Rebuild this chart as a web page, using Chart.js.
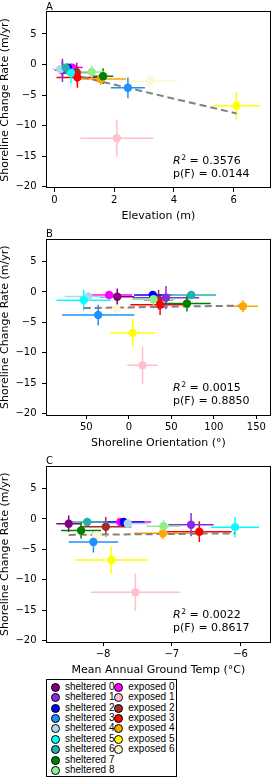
<!DOCTYPE html>
<html><head><meta charset="utf-8">
<script src="https://cdn.jsdelivr.net/npm/chart.js@4/dist/chart.umd.min.js"></script>
<style>
html,body{margin:0;padding:0;background:#fff;width:275px;height:777px;overflow:hidden;position:relative;}
canvas{position:absolute;left:0;}
#legend{position:absolute;left:46px;top:679px;width:131px;height:98px;border:1px solid #000;box-sizing:border-box;background:#fff;}
.lm{position:absolute;width:9px;height:9px;border-radius:50%;border:1px solid #000;box-sizing:border-box;}
.lt{position:absolute;font-family:"Liberation Sans",Arial,sans-serif;font-size:10px;line-height:10px;color:#000;white-space:nowrap;}
</style>
</head><body>
<canvas id="cA" width="275" height="228" style="top:0px;width:275px;height:228px"></canvas>
<canvas id="cB" width="275" height="227" style="top:228px;width:275px;height:227px"></canvas>
<canvas id="cC" width="275" height="227" style="top:455px;width:275px;height:227px"></canvas>
<div id="legend"></div>
<script>
// ---------- data ----------
const groupNames = ['sheltered 0','sheltered 1','sheltered 2','sheltered 3','sheltered 4','sheltered 5','sheltered 6','sheltered 7','sheltered 8',
                    'exposed 0','exposed 1','exposed 2','exposed 3','exposed 4','exposed 5','exposed 6'];
const groupColors = ['purple','blueviolet','blue','dodgerblue','lightblue','cyan','lightseagreen','green','lightgreen',
                     'magenta','pink','brown','red','orange','yellow','#fdf6d3'];
// plotting order (exposed first, then sheltered)
const plotOrder = [9,10,11,12,13,14,15,0,1,2,3,4,5,6,7,8];

const changeRate    = [-0.8, -0.95, -0.5, -3.8, -0.75, -1.35, -0.5, -1.9, -1.2, -0.5, -12.05, -1.3, -2.1, -2.35, -6.75, -2.7];
const changeRateErr = [1.35, 1.9, 0.4, 1.7, 0.4, 1.7, 0.4, 1.3, 1.0, 0.5, 3.05, 1.6, 1.7, 1.0, 2.25, 1.1];

const elevation     = [0.27, 0.27, 0.45, 2.46, 0.2, 0.55, 0.38, 1.63, 1.25, 0.6, 2.09, 0.75, 0.77, 1.55, 6.09, 3.2];
const elevationErr  = [0.22, 0.25, 0.3, 0.57, 0.25, 0.3, 0.25, 0.34, 0.43, 0.35, 1.22, 0.4, 0.7, 0.85, 0.79, 0.88];

const orientation    = [-13.6, 43.7, 28.2, -36, -47.6, -53, 73.4, 68.4, 29, -23.2, 16.2, 35, 36.8, 134.2, 4.6, -14.7];
const orientationErr = [20, 39, 22, 42.5, 28, 32, 29, 28, 25, 27, 18, 17, 35, 17.8, 26.5, 22];

const groundTemp    = [-8.5, -6.72, -7.7, -8.14, -7.64, -6.08, -8.23, -8.32, -7.12, -7.75, -7.53, -7.96, -6.6, -7.13, -7.88, -8.1];
const groundTempErr = [0.18, 0.33, 0.3, 0.36, 0.3, 0.35, 0.3, 0.29, 0.25, 0.45, 0.65, 0.37, 0.47, 0.42, 0.54, 0.2];

const fitElevX = [0.2, 6.09],   fitElevY = [-1.2, -8.0];
const fitOrientX = [-53, 134.2], fitOrientY = [-2.65, -2.25];
const fitTempX = [-8.5, -6.08],  fitTempY = [-2.63, -2.37];

const panelLetters = ['A','B','C'];
const rSquared = ['0.3576','0.0015','0.0022'];
const pF = ['0.0144','0.8850','0.8617'];

const yTicks = [5,0,-5,-10,-15,-20];
const yTickLabels = ['5','0','\u22125','\u221210','\u221215','\u221220'];
const elevTicks = [0,2,4,6], elevTickLabels = ['0','2','4','6'];
const orientTicks = [-50,0,50,100,150], orientTickLabels = ['50','0','50','100','150'];
const tempTicks = [-8,-7,-6], tempTickLabels = ['\u22128','\u22127','\u22126'];

// ---------- chart building ----------
const FONT = '"DejaVu Sans", Verdana, sans-serif';

const decor = {
  id: 'decor',
  afterDatasetsDraw(chart) {
    const ca = chart.chartArea, ctx = chart.ctx;
    ctx.save();
    ctx.strokeStyle = '#000'; ctx.lineWidth = 1;
    ctx.strokeRect(Math.round(ca.left)+0.5, Math.round(ca.top)-0.5, Math.round(ca.right-ca.left)-1, Math.round(ca.bottom-ca.top));
    ctx.restore();
  },
  afterDraw(chart) {
    const o = chart.options.plugins.decor;
    const ca = chart.chartArea, ctx = chart.ctx;
    ctx.save();
    ctx.fillStyle = '#000';
    ctx.textBaseline = 'alphabetic';
    ctx.textAlign = 'left';
    ctx.font = '10px ' + FONT;
    ctx.fillText(o.letter, ca.left, ca.top - 2.5);
    const x0 = 173, b1 = ca.bottom - 23.7, b2 = ca.bottom - 10.7;
    ctx.font = 'italic 11px ' + FONT;
    ctx.fillText('R', x0, b1);
    let w = ctx.measureText('R').width;
    ctx.font = '7.7px ' + FONT;
    ctx.fillText('2', x0 + w + 0.5, b1 - 4.3);
    w += ctx.measureText('2').width + 0.5;
    ctx.font = '11px ' + FONT;
    ctx.fillText(' = ' + o.r2, x0 + w, b1);
    ctx.fillText('p(F) = ' + o.pf, x0, b2);
    ctx.restore();
  }
};

function makePanel(id, idx, xs, xes, fitX, fitY, xmin, xmax, xTicks, xLabels, xTitle, padTop) {
  const datasets = [];
  plotOrder.forEach((g, k) => {
    const x = xs[g], xe = xes[g], y = changeRate[g], ye = changeRateErr[g], c = groupColors[g];
    const lineBase = {type:'scatter', showLine:true, borderColor:c, backgroundColor:c, borderWidth:1.5, pointRadius:0, pointHoverRadius:0, fill:false};
    datasets.push(Object.assign({}, lineBase, {data:[{x:x-xe,y:y},{x:x+xe,y:y}], order:1000-2*k}));
    datasets.push(Object.assign({}, lineBase, {data:[{x:x,y:y-ye},{x:x,y:y+ye}], order:999-2*k}));
    datasets.push({type:'scatter', data:[{x:x,y:y}], backgroundColor:c, borderColor:c, borderWidth:0, pointRadius:4.2, pointHoverRadius:4.2, order:100-k});
  });
  datasets.push({type:'scatter', showLine:true, data:fitX.map((v,i)=>({x:v,y:fitY[i]})), borderColor:'#808080', borderWidth:2, borderDash:[7,4], pointRadius:0, fill:false, order:500});

  const tickFont = {family: FONT, size: 10};
  const grid = {display:true, drawOnChartArea:false, drawTicks:true, tickLength:4, color:'#000', tickColor:'#000', lineWidth:1};
  return new Chart(document.getElementById(id), {
    type: 'scatter',
    data: {datasets},
    options: {
      responsive:false, maintainAspectRatio:false, animation:false, events:[],
      layout: {padding:{top:padTop, right:1, left:0, bottom:0}},
      plugins: {legend:{display:false}, tooltip:{enabled:false},
        decor:{letter:panelLetters[idx], r2:rSquared[idx], pf:pF[idx]}},
      scales: {
        x: {type:'linear', min:xmin, max:xmax,
          afterBuildTicks: s => { s.ticks = xTicks.map(v => ({value:v})); },
          afterFit: s => { s.height = 40; },
          ticks: {callback:(v,i)=>xLabels[i], font:tickFont, color:'#000', padding:2, maxRotation:0, autoSkip:false},
          grid: grid, border:{display:false},
          title: {display:true, text:xTitle, color:'#000', font:{family:FONT, size:11, lineHeight:1}, padding:{top:0, bottom:6.2}}
        },
        y: {type:'linear', min:-20.2, max:8.6,
          afterBuildTicks: s => { s.ticks = yTicks.map(v => ({value:v})); },
          afterFit: s => { s.width = 46; },
          ticks: {callback:(v,i)=>yTickLabels[i], font:tickFont, color:'#000', padding:5.5, autoSkip:false},
          grid: grid, border:{display:false},
          title: {display:true, text:'Shoreline Change Rate (m/yr)', color:'#000', font:{family:FONT, size:11, lineHeight:1}, padding:{top:0, bottom:0}}
        }
      }
    },
    plugins: [decor]
  });
}

makePanel('cA', 0, elevation, elevationErr, fitElevX, fitElevY, -0.28, 7.24, elevTicks, elevTickLabels, 'Elevation (m)', 12);
makePanel('cB', 1, orientation, orientationErr, fitOrientX, fitOrientY, -97.4, 167, orientTicks, orientTickLabels, 'Shoreline Orientation (\u00b0)', 10);
makePanel('cC', 2, groundTemp, groundTempErr, fitTempX, fitTempY, -8.83, -5.56, tempTicks, tempTickLabels, 'Mean Annual Ground Temp (\u00b0C)', 10);

// ---------- legend ----------
const leg = document.getElementById('legend');
groupNames.forEach((name, i) => {
  const col = i < 9 ? 0 : 1, row = i < 9 ? i : i - 9;
  const cy = 687.3 + row * 10.4 - 680; // relative to legend inner top
  const mx = (col === 0 ? 55 : 118.5) - 47;
  const m = document.createElement('div');
  m.className = 'lm';
  m.style.left = (mx - 4.5) + 'px';
  m.style.top = (cy - 4.5) + 'px';
  m.style.background = groupColors[i];
  leg.appendChild(m);
  const t = document.createElement('div');
  t.className = 'lt';
  t.textContent = name;
  t.style.left = ((col === 0 ? 65 : 128.3) - 47) + 'px';
  t.style.top = (cy - 5.5) + 'px';
  leg.appendChild(t);
});
</script>
</body></html>
